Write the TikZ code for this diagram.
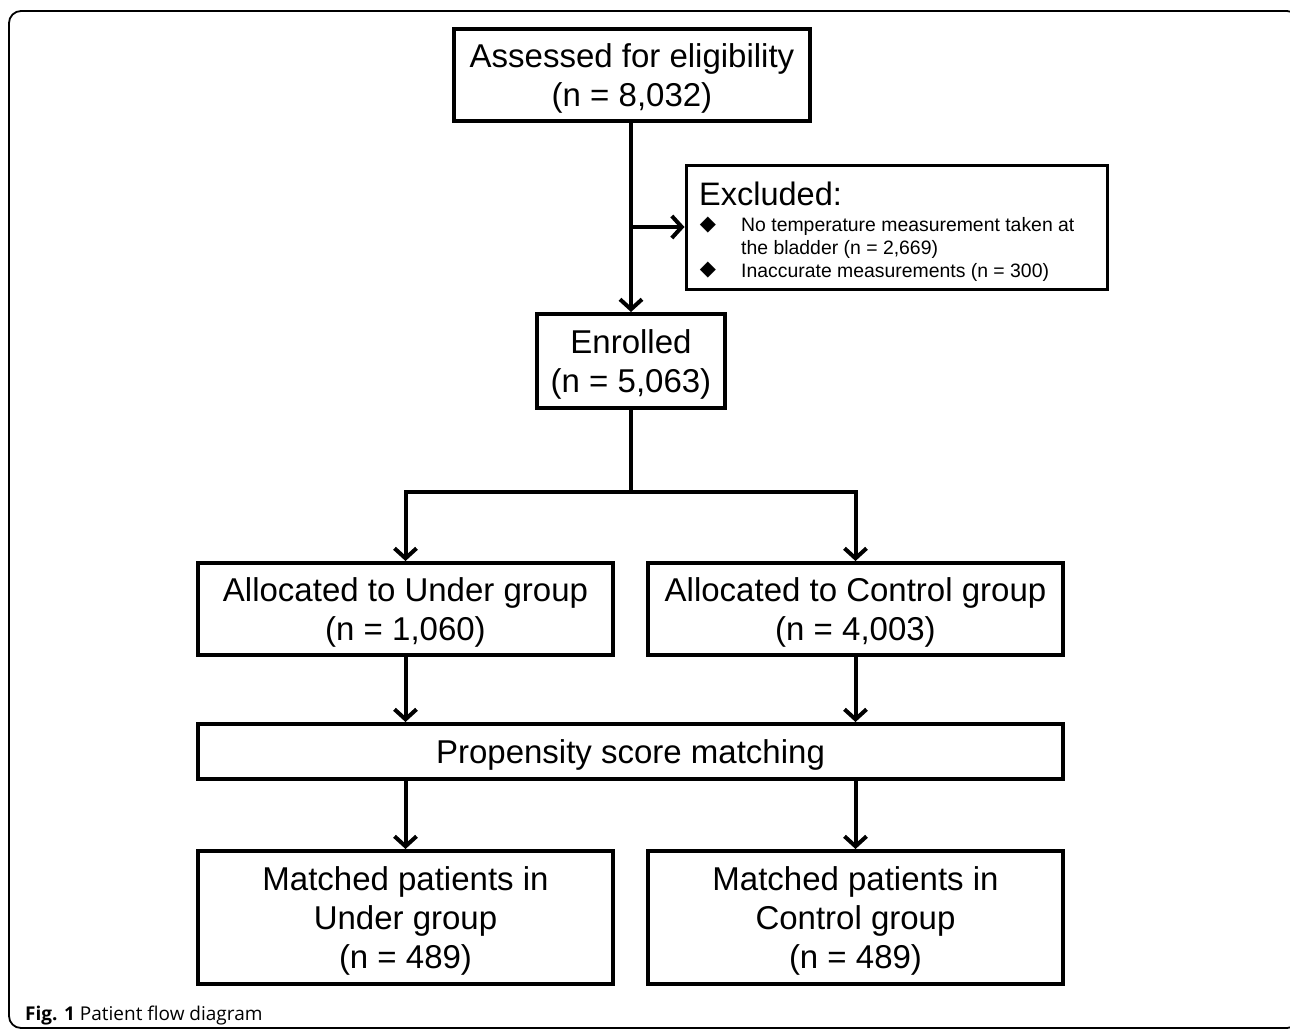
\documentclass[tikz,border=0pt]{standalone}
\usepackage{fontspec}
\setmainfont{Liberation Sans}
\newfontfamily\capfont{Open Sans}
\newfontfamily\symfont{DejaVu Sans}
\usetikzlibrary{arrows.meta}
\newcommand{\bxt}[1]{\raisebox{-4pt}[\height][\depth]{\begin{tabular}{@{}c@{}}#1\end{tabular}}}
\begin{document}
\begin{tikzpicture}[x=1pt,y=-1pt,
  box/.style={draw, line width=4pt, inner sep=0pt, align=center, font=\fontsize{33}{39}\selectfont},
  arr/.style={line width=4pt, -{Straight Barb[length=10pt,width=22pt,line width=4pt]}},
  ln/.style={line width=4pt},
  small/.style={anchor=base west, inner sep=0pt, font=\fontsize{19.4}{22.5}\selectfont},
  bul/.style={inner sep=0pt, font=\symfont\fontsize{21}{22}\selectfont}]
\useasboundingbox (0,0) rectangle (1290,1029);
\draw[line width=1.8pt, rounded corners=12pt] (9,11) rectangle (1299,1028);

\node[box, minimum width=356pt, minimum height=92pt] (elig) at (632,75) {\bxt{Assessed for eligibility\\(n = 8,032)}};
\node[draw, line width=3pt, minimum width=421pt, minimum height=124pt, inner sep=0pt] (excl) at (896.5,227) {};
\node[anchor=base west, inner sep=0pt, font=\fontsize{32.5}{38}\selectfont] (exh) at (699,205) {Excluded:};
\node[bul] (b1) at (708,225) {◆};
\node[small] (t1) at (741,231) {No temperature measurement taken at};
\node[small] (t2) at (741,254) {the bladder (n = 2,669)};
\node[bul] (b2) at (708,270) {◆};
\node[small] (t3) at (741,277) {Inaccurate measurements (n = 300)};

\node[box, minimum width=188pt, minimum height=94pt] (enr) at (631,361) {\bxt{Enrolled\\(n = 5,063)}};
\node[box, minimum width=415pt, minimum height=92pt] (under) at (405.5,609) {\bxt{Allocated to Under group\\(n = 1,060)}};
\node[box, minimum width=415pt, minimum height=92pt] (ctrl) at (855.5,609) {\bxt{Allocated to Control group\\(n = 4,003)}};
\node[box, minimum width=865pt, minimum height=55pt] (psm) at (630.5,751.5) {\bxt{Propensity score matching}};
\node[box, minimum width=415pt, minimum height=133pt] (mu) at (405.5,917.5) {\bxt{Matched patients in\\Under group\\(n = 489)}};
\node[box, minimum width=415pt, minimum height=133pt] (mc) at (855.5,917.5) {\bxt{Matched patients in\\Control group\\(n = 489)}};

\coordinate (exj) at (631,227);
\coordinate (split) at (631,492);
\draw[arr] (elig.south -| exj) -- (enr.north -| exj);
\draw[arr] (exj) -- (excl.west);
\draw[ln] (enr.south -| split) -- (split);
\draw[arr] (split) -| (under.north);
\draw[arr] (split) -| (ctrl.north);
\draw[arr] (under.south) -- (under.south |- psm.north);
\draw[arr] (ctrl.south) -- (ctrl.south |- psm.north);
\draw[arr] (under.south |- psm.south) -- (mu.north);
\draw[arr] (ctrl.south |- psm.south) -- (mc.north);

\node[anchor=base west, inner sep=0pt, font=\capfont\fontsize{19}{22}\selectfont] (cap) at (25,1020) {\textbf{Fig. 1} Patient flow diagram};
\end{tikzpicture}
\end{document}
